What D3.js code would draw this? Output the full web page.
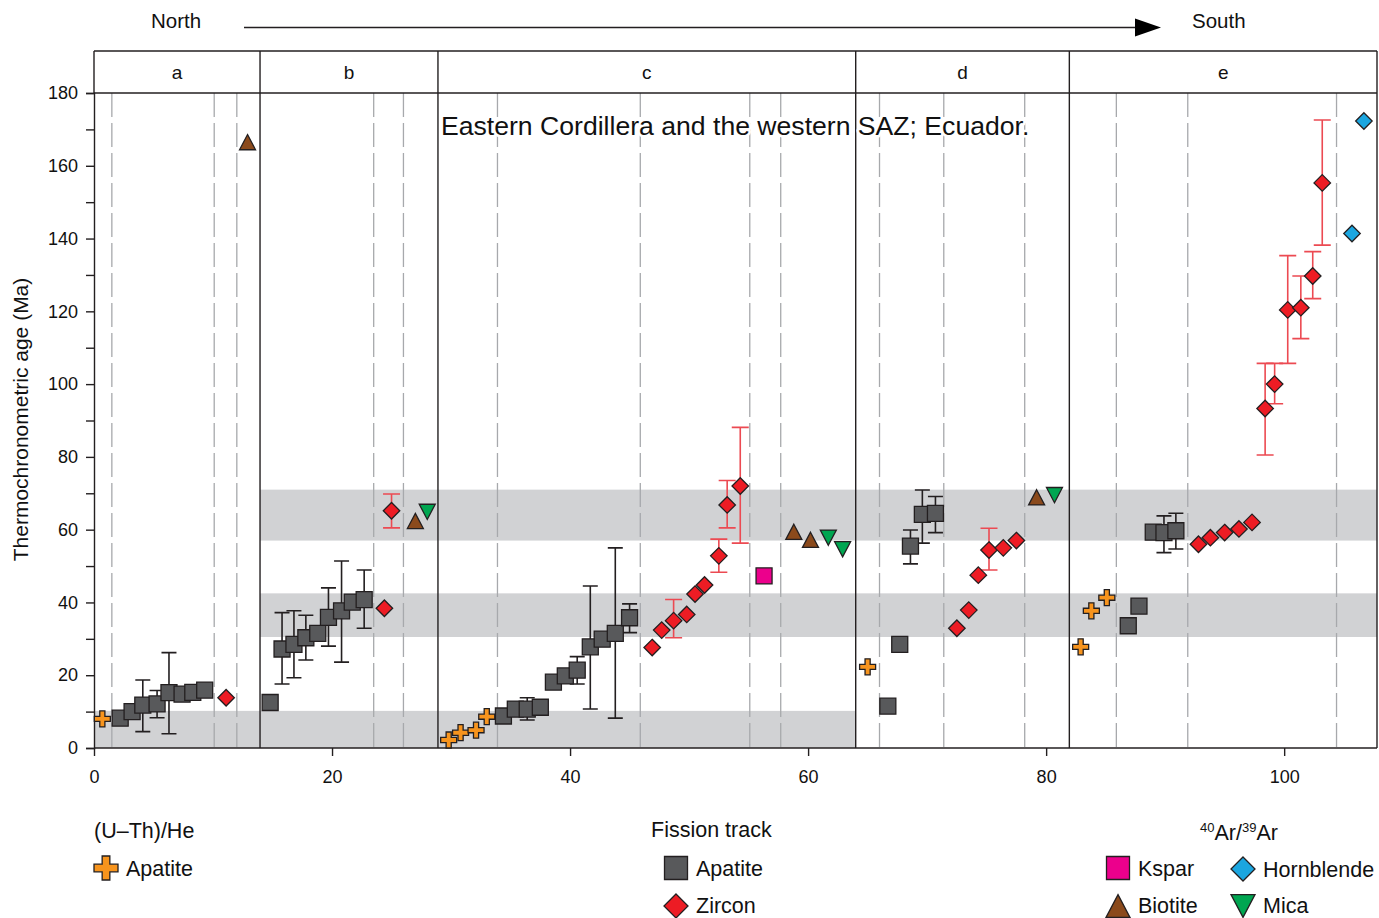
<!DOCTYPE html>
<html>
<head>
<meta charset="utf-8">
<script src="https://cdn.jsdelivr.net/npm/d3@7"></script>
<style>
  html, body { margin: 0; padding: 0; background: #fff; }
  svg text { font-family: "Liberation Sans", Arial, Helvetica, sans-serif; fill: #111; }
</style>
</head>
<body>
<svg id="chart" width="1379" height="918"></svg>
<script>
// ---- Data -----------------------------------------------------------------
// Each point: [distance index, age (Ma), lower error, upper error]
const panelNames = ["a", "b", "c", "d", "e"];
const panelBounds = [0, 13.95, 28.9, 64, 81.95, 107.8];
const subgroupLines = [1.5, 10.1, 12.0, 23.5, 26.0, 33.9, 45.9, 55.1, 57.7, 66.0, 71.4, 78.2, 85.9, 91.9, 104.4];
// shaded age windows: [x0, x1, age0, age1]
const ageBands = [[0, 64, 0, 10.2], [13.95, 107.8, 30.5, 42.5], [13.95, 107.8, 57, 71]];
const yTicks = [0, 10, 20, 30, 40, 50, 60, 70, 80, 90, 100, 110, 120, 130, 140, 150, 160, 170, 180];
const xTicks = [0, 20, 40, 60, 80, 100];

const heApatite = [[0.7, 8.0], [29.8, 2.2], [30.8, 4.2], [32.1, 4.9], [33.0, 8.6], [65.0, 22.3],
  [82.9, 27.8], [83.8, 37.7], [85.1, 41.3]];

const ftApatite = [
  [2.2, 8.2], [3.2, 10.0], [4.1, 11.8, 4.5, 18.7], [5.3, 12.1, 8.3, 15.8], [6.3, 15.2, 3.9, 26.2],
  [7.4, 14.8], [8.3, 15.3], [9.3, 15.9],
  [14.8, 12.5], [15.8, 27.2, 17.6, 37.2], [16.8, 28.5, 19.3, 37.7], [17.8, 30.3, 24.2, 36.5],
  [18.8, 31.5], [19.7, 35.9, 28, 44], [20.8, 37.7, 23.6, 51.4], [21.7, 40.1], [22.7, 40.8, 32.9, 48.9],
  [34.4, 8.8], [35.4, 10.7], [36.4, 10.7, 7.7, 13.8], [37.5, 11.2], [38.6, 18.1], [39.6, 19.8],
  [40.6, 21.4, 17.6, 25.1], [41.7, 27.8, 10.7, 44.5], [42.7, 29.9], [43.8, 31.5, 8.2, 55],
  [45.0, 35.8, 31.7, 39.6],
  [66.7, 11.5], [67.7, 28.5], [68.6, 55.5, 50.6, 59.9], [69.6, 64.2, 56.3, 70.9], [70.7, 64.5, 59.2, 69.1],
  [86.9, 33.6], [87.8, 39.0], [89.0, 59.3], [89.9, 59.2, 53.7, 63.8], [90.9, 59.7, 54.7, 64.5]
];

const ftZircon = [
  [11.1, 13.8],
  [24.4, 38.4], [25.0, 65.2, 60.5, 69.8],
  [46.9, 27.6], [47.7, 32.4], [48.7, 35.0, 30.3, 40.8], [49.8, 36.7], [50.5, 42.3], [51.3, 44.8],
  [52.5, 52.8, 48.3, 57.4], [53.2, 66.8, 60.5, 73.5], [54.3, 72.0, 56.3, 88.1],
  [72.5, 32.9], [73.5, 37.9], [74.3, 47.5], [75.2, 54.4, 48.9, 60.4], [76.4, 55.0], [77.5, 57.0],
  [92.8, 56.0], [93.8, 57.8], [95.0, 59.2], [96.2, 60.2], [97.3, 62.0],
  [98.4, 93.3, 80.5, 105.7], [99.2, 100.0, 94.6, 105.7], [100.3, 120.4, 105.7, 135.3],
  [101.4, 121.0, 112.5, 129.7], [102.4, 129.7, 123.5, 136.4], [103.2, 155.3, 138.2, 172.6]
];

const arKspar = [[56.3, 47.3]];
const arBiotite = [[12.9, 166.5], [27.0, 62.4], [58.8, 59.4], [60.2, 57.2], [79.2, 68.9]];
const arMica = [[28.0, 64.9], [61.7, 57.8], [62.9, 54.6], [80.7, 69.5]];
const arHornblende = [[105.7, 141.4], [106.7, 172.3]];

// ---- Layout ---------------------------------------------------------------
const svg = d3.select("#chart");
const plotLeft = 94, plotRight = 1377, plotTop = 93, plotBottom = 748, headerTop = 51;
const x = d3.scaleLinear().domain([0, 107.8]).range([plotLeft, plotRight]);
const y = d3.scaleLinear().domain([0, 180]).range([plotBottom, plotTop]);

const colors = {
  ink: "#231f20", band: "#d1d2d4", dash: "#a7a9ac",
  heApatite: "#f7941d", ftApatite: "#58595b", zircon: "#ed1c24", zirconErr: "#ec4a52",
  kspar: "#ec008c", biotite: "#8b4a1c", mica: "#00a651", hornblende: "#1ba6e0"
};

// marker path builders, centred on (0,0), s = full width
const shapes = {
  square: s => `M${-s/2},${-s/2}h${s}v${s}h${-s}Z`,
  diamond: s => `M0,${-s/2}L${s/2},0L0,${s/2}L${-s/2},0Z`,
  triUp: s => { const h = s * 0.95; return `M0,${-h/2}L${s/2},${h/2}L${-s/2},${h/2}Z`; },
  triDown: s => { const h = s * 0.95; return `M0,${h/2}L${s/2},${-h/2}L${-s/2},${-h/2}Z`; },
  cross: s => { const a = s / 2, t = s * 0.16;
    return `M${-t},${-a}H${t}V${-t}H${a}V${t}H${t}V${a}H${-t}V${t}H${-a}V${-t}H${-t}Z`; }
};

// ---- Background bands and guide lines --------------------------------------
svg.append("g").selectAll("rect").data(ageBands).join("rect")
  .attr("x", d => x(d[0])).attr("width", d => x(d[1]) - x(d[0]))
  .attr("y", d => y(d[3])).attr("height", d => y(d[2]) - y(d[3]))
  .attr("fill", colors.band);

svg.append("g").selectAll("line").data(subgroupLines).join("line")
  .attr("x1", d => x(d)).attr("x2", d => x(d))
  .attr("y1", plotTop).attr("y2", plotBottom)
  .attr("stroke", colors.dash).attr("stroke-width", 1.3)
  .attr("stroke-dasharray", "24,6");

// ---- Panel strip and frame -------------------------------------------------
const frame = svg.append("g").attr("stroke", colors.ink).attr("stroke-width", 1.4).attr("fill", "none");
frame.append("line").attr("x1", plotLeft).attr("x2", plotRight).attr("y1", headerTop).attr("y2", headerTop);
frame.append("line").attr("x1", plotLeft).attr("x2", plotRight).attr("y1", plotTop).attr("y2", plotTop);
frame.append("line").attr("x1", plotLeft).attr("x2", plotLeft).attr("y1", headerTop).attr("y2", plotTop);
frame.selectAll("line.sep").data(panelBounds.slice(1)).join("line").attr("class", "sep")
  .attr("x1", d => x(d)).attr("x2", d => x(d)).attr("y1", headerTop).attr("y2", plotBottom);

svg.append("g").selectAll("text").data(panelNames).join("text")
  .attr("x", (d, i) => (x(panelBounds[i]) + x(panelBounds[i + 1])) / 2)
  .attr("y", 79).attr("text-anchor", "middle").attr("font-size", 19).text(d => d);

// ---- Axes ------------------------------------------------------------------
const yAxis = svg.append("g").attr("transform", `translate(${plotLeft},0)`)
  .call(d3.axisLeft(y).tickValues(yTicks).tickSize(8).tickPadding(8)
    .tickFormat(d => d % 20 === 0 ? d : ""));
const xAxis = svg.append("g").attr("transform", `translate(0,${plotBottom})`)
  .call(d3.axisBottom(x).tickValues(xTicks).tickSize(8).tickPadding(14));
[yAxis, xAxis].forEach(g => {
  g.selectAll("path, line").attr("stroke", colors.ink).attr("stroke-width", 1.4);
  g.selectAll("text").attr("font-size", 18).attr("font-family", null).attr("fill", "#111");
});
xAxis.select(".domain").attr("d", `M${plotLeft},0H${plotRight}`);

svg.append("text")
  .attr("transform", `translate(28,${(plotTop + plotBottom) / 2 - 1}) rotate(-90)`)
  .attr("text-anchor", "middle").attr("font-size", 21)
  .text("Thermochronometric age (Ma)");

// ---- Title and direction arrow ----------------------------------------------
svg.append("text").attr("x", 441).attr("y", 135).attr("font-size", 26.6)
  .attr("stroke", "#fff").attr("stroke-width", 5).attr("paint-order", "stroke")
  .attr("stroke-linejoin", "round")
  .text("Eastern Cordillera and the western SAZ; Ecuador.");

svg.append("text").attr("x", 151).attr("y", 28).attr("font-size", 20.5).text("North");
svg.append("text").attr("x", 1192).attr("y", 28).attr("font-size", 20.5).text("South");
svg.append("line").attr("x1", 244).attr("x2", 1140).attr("y1", 27.5).attr("y2", 27.5)
  .attr("stroke", colors.ink).attr("stroke-width", 1.4);
svg.append("path").attr("d", "M1135,18.5L1161,27.5L1135,36.5Z").attr("fill", "#000");

// ---- Error bars and markers --------------------------------------------------
function errorBars(data, color, cap) {
  const g = svg.append("g").attr("stroke", color).attr("stroke-width", 1.6).attr("fill", "none");
  const withErr = data.filter(d => d.length === 4);
  g.selectAll("path").data(withErr).join("path")
    .attr("d", d => {
      const cx = x(d[0]), lo = y(d[2]), hi = y(d[3]);
      return `M${cx},${lo}V${hi}M${cx - cap / 2},${lo}H${cx + cap / 2}M${cx - cap / 2},${hi}H${cx + cap / 2}`;
    });
}

function markers(data, shape, size, fill) {
  svg.append("g").selectAll("path").data(data).join("path")
    .attr("transform", d => `translate(${x(d[0])},${y(d[1])})`)
    .attr("d", shapes[shape](size))
    .attr("fill", fill).attr("stroke", colors.ink).attr("stroke-width", 1.3)
    .attr("stroke-linejoin", "miter");
}

errorBars(ftApatite, colors.ink, 15);
markers(ftApatite, "square", 16, colors.ftApatite);
errorBars(ftZircon, colors.zirconErr, 17);
markers(ftZircon, "diamond", 16.5, colors.zircon);
markers(heApatite, "cross", 16, colors.heApatite);
markers(arKspar, "square", 16, colors.kspar);
markers(arBiotite, "triUp", 16, colors.biotite);
markers(arMica, "triDown", 16, colors.mica);
markers(arHornblende, "diamond", 16.5, colors.hornblende);

// ---- Legend ----------------------------------------------------------------
const legend = svg.append("g");
const legendFont = 21.5;
const groupTitles = [
  { x: 94, y: 838, text: "(U–Th)/He" },
  { x: 651, y: 837, text: "Fission track" }
];
legend.selectAll("text.gt").data(groupTitles).join("text").attr("class", "gt")
  .attr("x", d => d.x).attr("y", d => d.y).attr("font-size", legendFont).text(d => d.text);

const arTitle = legend.append("text").attr("x", 1200).attr("y", 840).attr("font-size", legendFont);
arTitle.append("tspan").attr("font-size", 13).attr("dy", -8).text("40");
arTitle.append("tspan").attr("dy", 8).text("Ar/");
arTitle.append("tspan").attr("font-size", 13).attr("dy", -8).text("39");
arTitle.append("tspan").attr("dy", 8).text("Ar");

const legendItems = [
  { cx: 106, cy: 868, shape: "cross", fill: colors.heApatite, label: "Apatite" },
  { cx: 676, cy: 868, shape: "square", fill: colors.ftApatite, label: "Apatite" },
  { cx: 676, cy: 906, shape: "diamond", fill: colors.zircon, label: "Zircon" },
  { cx: 1118, cy: 868, shape: "square", fill: colors.kspar, label: "Kspar" },
  { cx: 1243, cy: 869, shape: "diamond", fill: colors.hornblende, label: "Hornblende" },
  { cx: 1118, cy: 906, shape: "triUp", fill: colors.biotite, label: "Biotite" },
  { cx: 1243, cy: 906, shape: "triDown", fill: colors.mica, label: "Mica" }
];
const li = legend.selectAll("g.item").data(legendItems).join("g").attr("class", "item")
  .attr("transform", d => `translate(${d.cx},${d.cy})`);
li.append("path").attr("d", d => shapes[d.shape](d.shape === "square" ? 23 : 24))
  .attr("fill", d => d.fill).attr("stroke", colors.ink).attr("stroke-width", 1.3);
li.append("text").attr("x", 20).attr("y", d => d.cy > 900 ? 7 : 8)
  .attr("font-size", legendFont).text(d => d.label);
</script>
</body>
</html>
